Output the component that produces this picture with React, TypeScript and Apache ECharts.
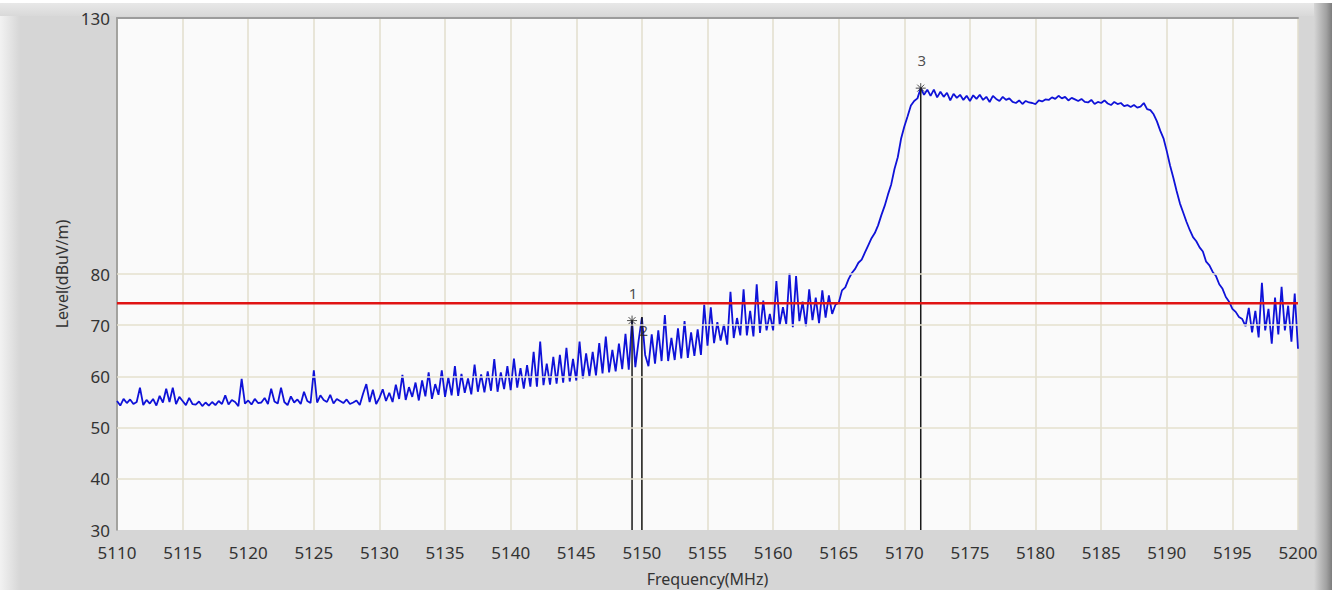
import React, { useEffect, useRef } from "react";
import * as echarts from "echarts";

const FREQ_START = 5110;
const FREQ_END = 5200;
const FREQ_STEP = 0.25;
const LEVELS: number[] = [
  55.2, 54.3, 55.6, 54.8, // 5110
  55.5, 54.6, 55.0, 57.8, // 5111
  54.4, 55.4, 54.7, 55.6, // 5112
  54.3, 56.2, 54.9, 57.6, // 5113
  55.0, 57.8, 54.6, 56.0, // 5114
  55.2, 54.4, 55.8, 54.6, // 5115
  54.5, 55.1, 54.2, 54.9, // 5116
  54.3, 55.0, 54.4, 55.2, // 5117
  54.6, 56.3, 54.5, 55.4, // 5118
  55.0, 54.2, 59.5, 54.7, // 5119
  55.3, 54.5, 55.6, 54.8, // 5120
  54.9, 55.8, 54.6, 57.6, // 5121
  55.1, 54.7, 57.8, 55.0, // 5122
  54.4, 56.1, 54.9, 55.5, // 5123
  54.6, 57.0, 55.2, 54.8, // 5124
  61.2, 54.9, 56.3, 55.4, // 5125
  55.0, 56.4, 54.7, 55.6, // 5126
  55.2, 54.8, 55.5, 54.6, // 5127
  54.9, 55.3, 54.4, 56.6, // 5128
  58.5, 55.0, 57.4, 54.6, // 5129
  55.8, 57.5, 55.2, 56.8, // 5130
  55.0, 58.4, 55.6, 60.3, // 5131
  55.4, 57.9, 56.0, 58.8, // 5132
  55.3, 59.2, 56.1, 60.8, // 5133
  55.6, 58.5, 56.4, 61.2, // 5134
  56.0, 59.8, 56.3, 62.0, // 5135
  56.2, 60.5, 56.8, 59.6, // 5136
  56.5, 62.3, 57.0, 60.4, // 5137
  56.9, 61.0, 57.2, 63.4, // 5138
  57.0, 60.8, 57.5, 62.0, // 5139
  57.3, 63.5, 57.8, 61.6, // 5140
  57.6, 62.2, 58.0, 64.8, // 5141
  58.0, 66.8, 58.3, 62.5, // 5142
  58.4, 63.8, 58.6, 64.2, // 5143
  58.8, 65.6, 59.0, 63.4, // 5144
  59.2, 66.8, 59.6, 64.5, // 5145
  60.0, 64.8, 60.2, 66.5, // 5146
  60.6, 67.8, 60.8, 65.2, // 5147
  61.0, 66.4, 61.4, 68.3, // 5148
  61.3, 70.9, 61.8, 67.0, // 5149
  71.5, 64.2, 62.0, 68.2, // 5150
  62.5, 69.0, 63.0, 72.0, // 5151
  63.0, 67.5, 63.2, 69.4, // 5152
  63.5, 70.8, 63.6, 68.6, // 5153
  64.0, 69.2, 64.2, 74.0, // 5154
  66.0, 73.5, 66.5, 70.6, // 5155
  67.0, 70.2, 66.2, 76.5, // 5156
  67.5, 71.4, 68.0, 77.0, // 5157
  68.0, 72.8, 67.8, 78.0, // 5158
  68.5, 74.8, 69.0, 72.2, // 5159
  69.0, 78.6, 70.0, 73.5, // 5160
  70.2, 80.2, 69.6, 79.6, // 5161
  70.8, 74.6, 69.8, 77.0, // 5162
  71.0, 75.4, 70.4, 76.8, // 5163
  71.5, 75.8, 72.2, 74.0, // 5164
  74.4, 76.8, 77.4, 79.0, // 5165
  80.2, 81.0, 82.2, 82.8, // 5166
  84.2, 85.6, 87.0, 88.0, // 5167
  89.5, 91.5, 93.3, 95.5, // 5168
  97.5, 100.5, 102.8, 106.4, // 5169
  108.8, 110.8, 112.9, 113.8, // 5170
  114.3, 116.3, 115.0, 116.0, // 5171
  114.8, 116.0, 114.5, 115.6, // 5172
  114.6, 115.4, 113.9, 115.2, // 5173
  114.4, 115.0, 114.0, 114.8, // 5174
  113.8, 114.9, 114.2, 115.0, // 5175
  114.0, 114.6, 113.6, 114.8, // 5176
  114.2, 113.8, 114.6, 114.0, // 5177
  114.3, 113.6, 113.4, 113.9, // 5178
  113.2, 113.8, 113.5, 113.4, // 5179
  113.2, 113.9, 113.7, 114.1, // 5180
  114.0, 114.5, 114.2, 114.8, // 5181
  114.3, 114.6, 113.9, 114.4, // 5182
  114.1, 113.8, 114.2, 113.6, // 5183
  113.5, 114.0, 113.2, 113.6, // 5184
  113.4, 113.9, 113.3, 113.0, // 5185
  113.6, 113.2, 113.4, 112.8, // 5186
  113.0, 112.6, 113.0, 112.5, // 5187
  112.7, 113.4, 112.2, 112.0, // 5188
  111.2, 109.8, 108.0, 106.5, // 5189
  104.0, 101.2, 98.8, 96.2, // 5190
  93.8, 92.0, 90.2, 88.6, // 5191
  87.2, 86.4, 85.2, 84.4, // 5192
  82.4, 81.7, 80.4, 79.6, // 5193
  78.0, 77.1, 75.5, 74.6, // 5194
  73.2, 72.6, 71.6, 71.2, // 5195
  69.8, 73.4, 68.6, 72.8, // 5196
  67.6, 78.3, 69.0, 73.2, // 5197
  66.4, 75.4, 68.2, 77.5, // 5198
  69.0, 73.8, 66.8, 76.2, // 5199
  65.4, // 5200
];

const LIMIT_LEVEL = 74.3;

const MARKER_NAMES = ["1", "2", "3"];
const MARKER_FREQS = [5149.25, 5150.0, 5171.25];
const MARKER_LEVELS = [70.9, 71.5, 116.3];

const X_MIN = 5110;
const X_MAX = 5200;
const X_INTERVAL = 5;
const Y_MIN = 30;
const Y_MAX = 130;
const Y_INTERVAL = 10;
const Y_LABELS = [30, 40, 50, 60, 70, 80, 130];
const Y_GRID = [40, 50, 60, 70, 80];

const FONT = "'Noto Sans', 'Open Sans', sans-serif";
const STAR = "path://M0,-5L0,5M-5,0L5,0M-3.5,-3.5L3.5,3.5M-3.5,3.5L3.5,-3.5";

export default function App() {
  const ref = useRef<HTMLDivElement>(null);

  useEffect(() => {
    if (!ref.current) return;
    const chart = echarts.init(ref.current, null, { renderer: "svg" });

    const trace = LEVELS.map((v, i) => [FREQ_START + i * FREQ_STEP, v]);

    const markerLineSeries = MARKER_FREQS.map((f, i) => ({
      type: "line",
      silent: true,
      z: 4,
      showSymbol: false,
      symbol: "none",
      lineStyle: { color: "#1a1a1a", width: 1.5 },
      data: [
        [f, MARKER_LEVELS[i]],
        [f, Y_MIN],
      ],
    }));

    const markerPoints = MARKER_NAMES.map((name, i) => {
      const hidden = name === "2";
      return {
        value: [MARKER_FREQS[i], MARKER_LEVELS[i]],
        name,
        symbolSize: hidden ? 1 : 10,
        label: {
          show: true,
          formatter: name,
          position: hidden ? "bottom" : "top",
          distance: hidden ? 4 : 15,
          offset: hidden ? [2, 0] : [1, 0],
          color: "#222",
          fontSize: 15,
          fontFamily: FONT,
        },
      };
    });

    chart.setOption({
      animation: false,
      backgroundColor: "#ffffff",
      graphic: [
        { type: "rect", silent: true, z: -10, shape: { x: 0, y: 3, width: 1332, height: 587 }, style: { fill: "#d6d6d6" } },
        {
          type: "rect", silent: true, z: -9,
          shape: { x: 0, y: 3, width: 20, height: 587 },
          style: { fill: new echarts.graphic.LinearGradient(0, 0, 1, 0, [{ offset: 0, color: "#f2f2f2" }, { offset: 1, color: "#d6d6d6" }]) },
        },
        {
          type: "rect", silent: true, z: -9,
          shape: { x: 0, y: 3, width: 1332, height: 13 },
          style: { fill: new echarts.graphic.LinearGradient(0, 0, 0, 1, [{ offset: 0, color: "#e8e8e8" }, { offset: 1, color: "#d9d9d9" }]) },
        },
        {
          type: "rect", silent: true, z: -8,
          shape: { x: 1314, y: 3, width: 18, height: 587 },
          style: { fill: new echarts.graphic.LinearGradient(0, 0, 1, 0, [{ offset: 0, color: "#d6d6d6" }, { offset: 0.7, color: "#a0a0a0" }, { offset: 1, color: "#7c7c7c" }]) },
        },
      ],
      grid: {
        left: 117,
        right: 40,
        top: 18,
        bottom: 63,
        show: true,
        backgroundColor: "#fafafa",
        borderWidth: 0,
      },
      xAxis: [
        {
          type: "value",
          min: X_MIN,
          max: X_MAX,
          interval: X_INTERVAL,
          name: "Frequency(MHz)",
          nameLocation: "middle",
          nameGap: 41,
          nameTextStyle: { color: "#333", fontSize: 16, fontFamily: FONT },
          axisLine: { show: false },
          axisTick: { show: false },
          axisLabel: {
            color: "#333",
            fontSize: 17,
            lineHeight: 16,
            fontFamily: FONT,
            margin: 14,
            formatter: (v: number) => String(v),
          },
          splitLine: { show: true, lineStyle: { color: "#e2decd", width: 1.5 } },
        },
        {
          type: "value",
          position: "top",
          min: X_MIN,
          max: X_MAX,
          axisLine: { show: true, lineStyle: { color: "#9c9c9c", width: 2 } },
          axisTick: { show: false },
          axisLabel: { show: false },
          splitLine: { show: false },
        },
      ],
      yAxis: {
        type: "value",
        min: Y_MIN,
        max: Y_MAX,
        interval: Y_INTERVAL,
        name: "Level(dBuV/m)",
        nameLocation: "middle",
        nameGap: 46,
        nameTextStyle: { color: "#333", fontSize: 16, fontFamily: FONT },
        axisLine: { show: true, lineStyle: { color: "#8e8e8e", width: 1.5 } },
        axisTick: { show: false },
        axisLabel: {
          color: "#333",
          fontSize: 17,
          lineHeight: 16,
          fontFamily: FONT,
          margin: 7,
          formatter: (v: number) => (Y_LABELS.includes(v) ? String(v) : ""),
        },
        splitLine: { show: false },
      },
      series: [
        {
          type: "line",
          silent: true,
          z: 1,
          data: [],
          markLine: {
            silent: true,
            symbol: "none",
            label: { show: false },
            lineStyle: { color: "#e5e0ce", width: 1.5, type: "solid" },
            data: Y_GRID.map((v) => ({ yAxis: v })),
          },
        },
        {
          type: "line",
          z: 3,
          silent: true,
          showSymbol: false,
          symbol: "none",
          lineStyle: { color: "#0f12d8", width: 1.8 },
          data: trace,
        },
        ...markerLineSeries,
        {
          type: "line",
          z: 5,
          silent: true,
          showSymbol: false,
          symbol: "none",
          lineStyle: { color: "#e01414", width: 2.5 },
          data: [
            [FREQ_START, LIMIT_LEVEL],
            [FREQ_END, LIMIT_LEVEL],
          ],
        },
        {
          type: "scatter",
          z: 6,
          silent: true,
          symbol: STAR,
          itemStyle: { color: "transparent", borderColor: "#222", borderWidth: 1 },
          data: markerPoints,
        },
      ],
    });

    return () => chart.dispose();
  }, []);

  return (
    <div
      ref={ref}
      style={{ position: "fixed", left: 0, top: 0, width: 1338, height: 593 }}
    />
  );
}
